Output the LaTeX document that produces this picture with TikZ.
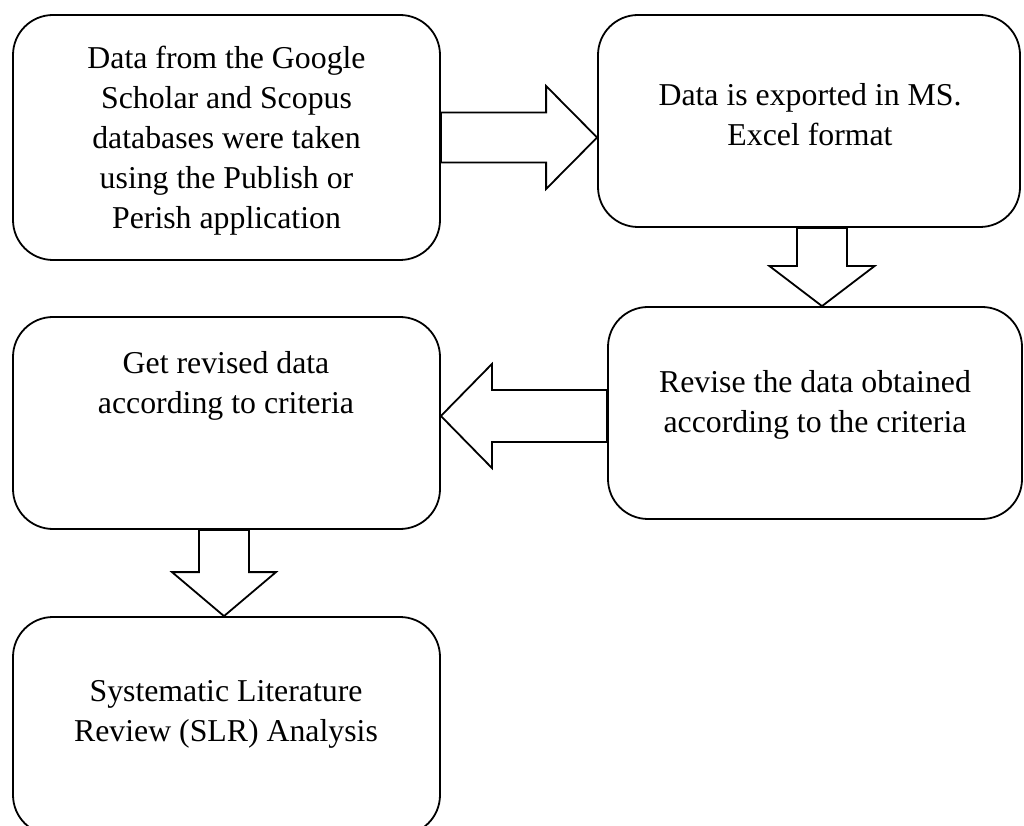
\documentclass[tikz,border=0pt]{standalone}
\usepackage{fontspec}
\setmainfont{Liberation Serif}
\usetikzlibrary{calc}
\tikzset{
  box/.style={draw=black, line width=1.8pt, rectangle, rounded corners=40pt, inner sep=0pt, fill=white},
  txt/.style={align=center, inner sep=0pt, font=\fontsize{31.8pt}{40pt}\selectfont},
  blk/.style={draw=black, line width=1.8pt, fill=white, line join=miter}
}
\begin{document}
\begin{tikzpicture}[x=1pt,y=1pt]
\clip (0,0) rectangle (1024,825);
\fill[white] (0,0) rectangle (1024,825);
% boxes
\node[box, minimum width=427pt, minimum height=245pt] (b1) at (226.5,687.5) {};
\node[box, minimum width=422pt, minimum height=212pt] (b2) at (809,704) {};
\node[box, minimum width=414pt, minimum height=212pt] (b3) at (815,412) {};
\node[box, minimum width=427pt, minimum height=212pt] (b4) at (226.5,402) {};
\node[box, minimum width=427pt, minimum height=218pt] (b5) at (226.5,99) {};
% texts
\node[txt] (t1) at (226.5,684.5) {Data from the Google\\Scholar and Scopus\\databases were taken\\using the Publish or\\Perish application};
\node[txt] (t2) at (810,710.5) {Data is exported in MS.\\Excel format};
\node[txt] (t3) at (815,420.5) {Revise the data obtained\\according to the criteria};
\node[txt] (t4) at (226,439.5) {Get revised data\\according to criteria};
\node[txt] (t5) at (226,110.5) {Systematic Literature\\Review (SLR) Analysis};
% arrow 1: b1 -> b2
\coordinate (a1s) at (b1.east);
\coordinate (a1t) at (b1.east -| b2.west);
\draw[blk] ([yshift=25pt]a1s) -- ([shift={(-51pt,25pt)}]a1t) -- ([shift={(-51pt,51.5pt)}]a1t) -- (a1t)
  -- ([shift={(-51pt,-51.5pt)}]a1t) -- ([shift={(-51pt,-25pt)}]a1t) -- ([yshift=-25pt]a1s) -- cycle;
% arrow 2: b2 -> b3
\coordinate (a2s) at ([xshift=13pt]b2.south);
\coordinate (a2t) at (a2s |- b3.north);
\draw[blk] ([xshift=-25pt]a2s) -- ([shift={(-25pt,40pt)}]a2t) -- ([shift={(-52.5pt,40pt)}]a2t) -- (a2t)
  -- ([shift={(52.5pt,40pt)}]a2t) -- ([shift={(25pt,40pt)}]a2t) -- ([xshift=25pt]a2s) -- cycle;
% arrow 3: b3 -> b4
\coordinate (a3s) at ([yshift=-3pt]b3.west);
\coordinate (a3t) at (a3s -| b4.east);
\draw[blk] ([yshift=26pt]a3s) -- ([shift={(51pt,26pt)}]a3t) -- ([shift={(51pt,52pt)}]a3t) -- (a3t)
  -- ([shift={(51pt,-52pt)}]a3t) -- ([shift={(51pt,-26pt)}]a3t) -- ([yshift=-26pt]a3s) -- cycle;
% arrow 4: b4 -> b5
\coordinate (a4s) at ([xshift=-2.5pt]b4.south);
\coordinate (a4t) at (a4s |- b5.north);
\draw[blk] ([xshift=-25pt]a4s) -- ([shift={(-25pt,44pt)}]a4t) -- ([shift={(-52pt,44pt)}]a4t) -- (a4t)
  -- ([shift={(52pt,44pt)}]a4t) -- ([shift={(25pt,44pt)}]a4t) -- ([xshift=25pt]a4s) -- cycle;
\end{tikzpicture}
\end{document}
